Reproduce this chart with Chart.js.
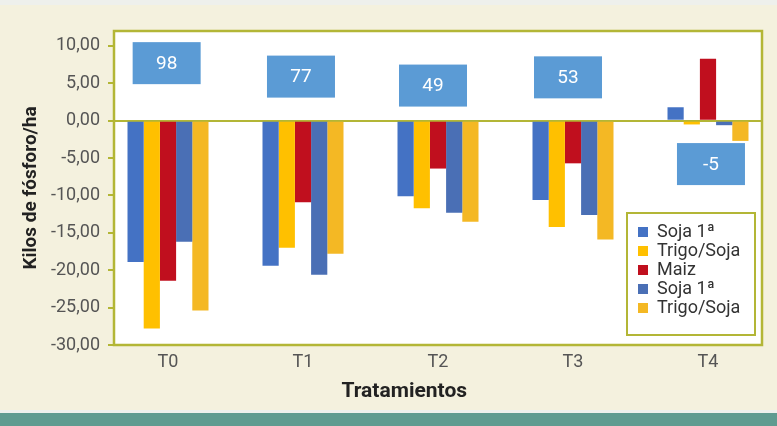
<!DOCTYPE html>
<html>
<head>
<meta charset="utf-8">
<script src="https://cdn.jsdelivr.net/npm/chart.js@4.4.1/dist/chart.umd.min.js"></script>
<style>
    html, body { margin: 0; padding: 0; }
    body {
        width: 777px; height: 426px; overflow: hidden;
        background: linear-gradient(to bottom, #eef0ec 0, #eef0ec 5px, #f4f1de 5px, #f4f1de 410px, #eef0ec 410px, #eef0ec 413px, #5f9b90 413px);
    }
    #wrap { position: relative; width: 777px; height: 426px; }
</style>
</head>
<body>
<div id="wrap"><canvas id="chart" width="777" height="426"></canvas></div>
<script>
const categories = ["T0", "T1", "T2", "T3", "T4"];
const soja1 = [-18.9, -19.4, -10.1, -10.6, 1.8];
const trigoSoja1 = [-27.8, -17.0, -11.7, -14.2, -0.5];
const maiz = [-21.4, -10.9, -6.4, -5.7, 8.3];
const soja2 = [-16.2, -20.6, -12.3, -12.6, -0.6];
const trigoSoja2 = [-25.4, -17.8, -13.5, -15.9, -2.7];
const seriesNames = ["Soja 1ª", "Trigo/Soja", "Maiz", "Soja 1ª", "Trigo/Soja"];
const boxLabels = ["98", "77", "49", "53", "-5"];
const boxAt = [-0.01, 0.985, 1.963, 2.963, 4.022];
const boxLevels = [7.7, 5.9, 4.7, 5.8, -5.8];
const yTicks = [10, 5, 0, -5, -10, -15, -20, -25, -30];

const OLIVE = "#b3b636";
const colors = ["#4472c4", "#ffc000", "#c00f1e", "#4a6fb5", "#f4b824"];

Chart.defaults.font.family = "Roboto";

const toPoints = arr => arr.map((v, i) => ({ x: i, y: v }));
const seriesValues = [soja1, trigoSoja1, maiz, soja2, trigoSoja2];

const framePlugin = {
    id: "frame",
    afterLayout(chart) {
        // put the legend inside the plot, lower right
        const lg = chart.legend;
        lg.left = 637;
        lg.top = 222;
        lg.right = 755;
        lg.bottom = 345;
    },
    beforeDraw(chart) {
        const { ctx, chartArea: a } = chart;
        ctx.save();
        ctx.fillStyle = "#ffffff";
        ctx.fillRect(a.left, a.top, a.right - a.left, a.bottom - a.top);
        ctx.fillRect(627, 213, 128, 122);
        ctx.restore();
    },
    afterDatasetsDraw(chart) {
        const { ctx, scales } = chart;
        ctx.save();
        boxLabels.forEach((t, i) => {
            const cx = scales.x.getPixelForValue(boxAt[i]);
            const cy = scales.y.getPixelForValue(boxLevels[i]);
            ctx.fillStyle = "#5b9bd5";
            ctx.fillRect(cx - 34, cy - 21, 68, 42);
            ctx.fillStyle = "#ffffff";
            ctx.font = "19px Roboto";
            ctx.textAlign = "center";
            ctx.textBaseline = "middle";
            ctx.fillText(t, cx, cy + 1);
        });
        ctx.restore();
    },
    afterDraw(chart) {
        const { ctx, chartArea: a, scales } = chart;
        ctx.save();
        ctx.strokeStyle = OLIVE;
        ctx.lineWidth = 2.5;
        ctx.strokeRect(a.left, a.top, a.right - a.left, a.bottom - a.top);
        ctx.lineWidth = 2;
        ctx.strokeRect(627, 213, 128, 122);
        ctx.fillStyle = "#222";
        ctx.font = "bold 21px Roboto";
        ctx.textAlign = "center";
        ctx.textBaseline = "middle";
        ctx.fillText("Tratamientos", scales.x.getPixelForValue(1.75), 392);
        ctx.restore();
    }
};

new Chart(document.getElementById("chart"), {
    type: "bar",
    data: {
        datasets: seriesValues.map((vals, i) => ({
            label: seriesNames[i],
            data: toPoints(vals),
            backgroundColor: colors[i],
            borderWidth: 0,
            categoryPercentage: 0.6,
            barPercentage: 1.0
        }))
    },
    options: {
        responsive: false,
        animation: false,
        layout: { padding: { top: 31, right: 15, left: 0, bottom: 0 } },
        plugins: {
            legend: {
                position: "chartArea",
                align: "start",
                labels: {
                    boxWidth: 10,
                    boxHeight: 10,
                    padding: 1,
                    color: "#333",
                    font: { size: 18, lineHeight: 1.15 }
                }
            },
            tooltip: { enabled: false }
        },
        scales: {
            x: {
                type: "linear",
                min: -0.4,
                max: 4.4,
                offset: false,
                bounds: "data",
                afterFit: s => { s.height = 81; },
                afterBuildTicks: s => { s.ticks = categories.map((c, i) => ({ value: i })); },
                grid: { display: false, drawTicks: false, offset: false },
                border: { display: false },
                ticks: {
                    autoSkip: false,
                    maxRotation: 0,
                    padding: 7,
                    color: "#555",
                    font: { size: 18 },
                    callback: v => categories[v]
                }
            },
            y: {
                min: -30,
                max: 12,
                z: 1,
                afterFit: s => { s.width = 114; },
                afterBuildTicks: s => { s.ticks = yTicks.map(v => ({ value: v })); },
                grid: {
                    color: c => (c.tick && c.tick.value === 0 ? OLIVE : "transparent"),
                    lineWidth: 2,
                    tickColor: OLIVE,
                    tickLength: 6
                },
                border: { display: false },
                ticks: {
                    padding: 8,
                    color: "#555",
                    font: { size: 18 },
                    callback: v => v.toFixed(2).replace(".", ",")
                },
                title: {
                    display: true,
                    text: "Kilos de fósforo/ha",
                    color: "#222",
                    font: { size: 19, weight: "bold" },
                    padding: { top: 20, bottom: 0 }
                }
            }
        }
    },
    plugins: [framePlugin]
});
</script>
</body>
</html>
